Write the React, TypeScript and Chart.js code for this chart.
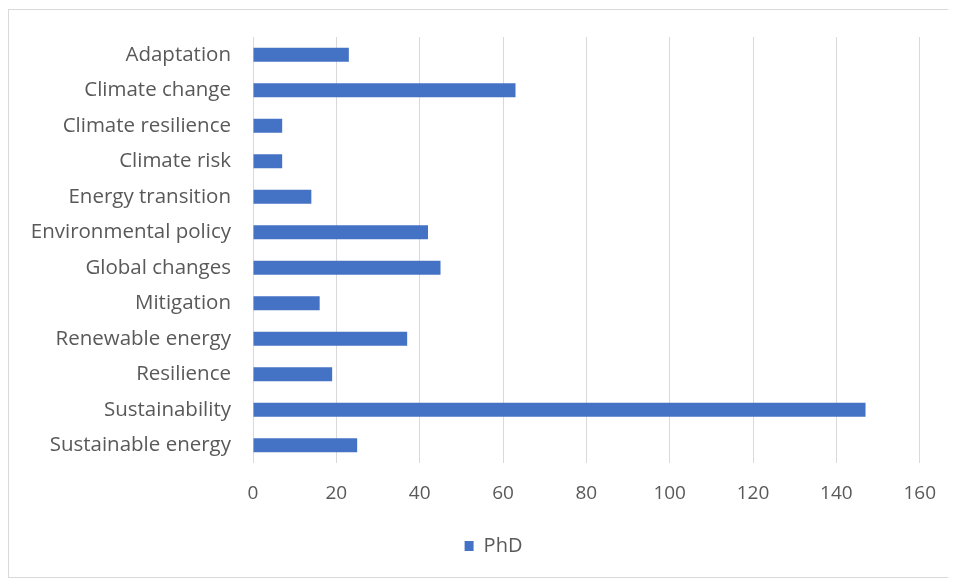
import React, { useEffect, useRef } from "react";
import { Chart, registerables } from "chart.js";

Chart.register(...registerables);

const categories = [
  "Adaptation",
  "Climate change",
  "Climate resilience",
  "Climate risk",
  "Energy transition",
  "Environmental policy",
  "Global changes",
  "Mitigation",
  "Renewable energy",
  "Resilience",
  "Sustainability",
  "Sustainable energy",
];

const phdCounts = [23, 63, 7, 7, 14, 42, 45, 16, 37, 19, 147, 25];

const seriesLabel = "PhD";
const axisMin = 0;
const axisMax = 160;
const axisStep = 20;

const FONT = "'Open Sans', sans-serif";
const TEXT_COLOR = "#595959";
const GRID_COLOR = "#d9d9d9";
const BAR_COLOR = "#4472c4";

// Nudges the bottom legend so it sits under the centre of the whole frame.
const legendShift = {
  id: "legendShift",
  afterLayout(chart: any) {
    const lg = chart.legend;
    if (!lg) return;
    const dx = 28;
    lg.left += dx;
    lg.right += dx;
    if (lg.legendHitBoxes) {
      lg.legendHitBoxes.forEach((b: any) => {
        b.left += dx;
      });
    }
  },
};

export default function App() {
  const canvasRef = useRef<HTMLCanvasElement | null>(null);

  useEffect(() => {
    const canvas = canvasRef.current;
    if (!canvas) return;
    const chart = new Chart(canvas, {
      type: "bar",
      data: {
        labels: categories,
        datasets: [
          {
            label: seriesLabel,
            data: phdCounts,
            backgroundColor: BAR_COLOR,
            borderWidth: 0,
            barPercentage: 0.4,
            categoryPercentage: 1,
          },
        ],
      },
      options: {
        indexAxis: "y",
        animation: false,
        responsive: false,
        maintainAspectRatio: false,
        layout: { padding: { left: 0, right: 33, top: 27, bottom: 11 } },
        plugins: {
          tooltip: { enabled: false },
          legend: {
            position: "bottom",
            labels: {
              font: { family: FONT, size: 20 },
              color: TEXT_COLOR,
              boxWidth: 9,
              boxHeight: 10,
              padding: 10,
            },
          },
        },
        scales: {
          x: {
            min: axisMin,
            max: axisMax,
            ticks: {
              stepSize: axisStep,
              font: { family: FONT, size: 19 },
              color: TEXT_COLOR,
              padding: 19,
            },
            grid: { color: GRID_COLOR, lineWidth: 1, drawTicks: false },
            border: { display: false },
            afterFit: (scale: any) => {
              scale.height = 63;
            },
          },
          y: {
            ticks: {
              font: { family: FONT, size: 20.5 },
              color: TEXT_COLOR,
              padding: 22,
              autoSkip: false,
            },
            grid: { display: false, drawTicks: false },
            border: { display: false },
            afterFit: (scale: any) => {
              scale.width = 244;
              scale.paddingTop = 0;
              scale.paddingBottom = 0;
            },
          },
        },
      },
      plugins: [legendShift],
    });
    return () => chart.destroy();
  }, []);

  return (
    <div
      style={{
        marginTop: 1,
        width: 946,
        height: 567,
        border: "1px solid #d9d9d9",
        background: "#ffffff",
      }}
    >
      <canvas ref={canvasRef} width={946} height={567} style={{ display: "block" }} />
    </div>
  );
}
